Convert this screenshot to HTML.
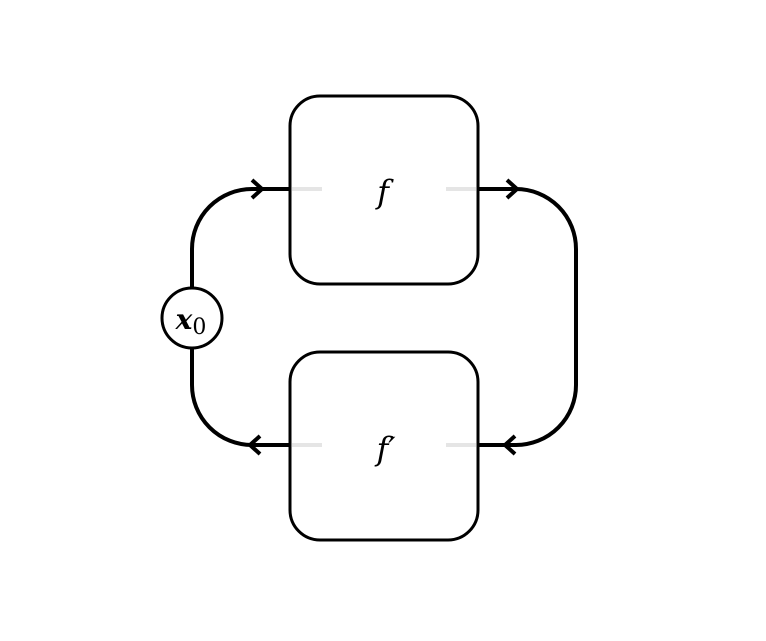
<!DOCTYPE html>
<html><head><style>body{margin:0;background:#fff}</style></head><body>
<svg width="766" height="636" xmlns="http://www.w3.org/2000/svg">
<rect width="766" height="636" fill="#fff"/>
<g stroke="#e5e5e5" stroke-width="4">
<line x1="292" y1="189" x2="322" y2="189"/><line x1="446" y1="189" x2="476" y2="189"/>
<line x1="292" y1="445" x2="322" y2="445"/><line x1="446" y1="445" x2="476" y2="445"/>
</g>
<g fill="none" stroke="#000" stroke-width="4">
<path d="M290 189 H252 A60 60 0 0 0 192 249 V290"/>
<path d="M192 346 V385 A60 60 0 0 0 252 445 H290"/>
<path d="M478 189 H516 A60 60 0 0 1 576 249 V385 A60 60 0 0 1 516 445 H478"/>
<path d="M252 180 L262 189 L252 198"/>
<path d="M507 180 L517 189 L507 198"/>
<path d="M260 436 L250 445 L260 454"/>
<path d="M515 436 L505 445 L515 454"/>
</g>
<g fill="none" stroke="#000" stroke-width="3">
<rect x="290" y="96" width="188" height="188" rx="30"/>
<rect x="290" y="352" width="188" height="188" rx="30"/>
<circle cx="192" cy="318" r="30" fill="#fff"/>
</g>
<g font-family="DejaVu Serif, serif" font-style="italic" font-size="32" text-anchor="middle">
<text x="383" y="203">f</text>
<text x="386" y="460">f′</text>
<text x="191" y="329" font-size="28" font-weight="bold">x<tspan font-style="normal" font-weight="normal" font-size="22" dy="5">0</tspan></text>
</g>
</svg>
</body></html>
